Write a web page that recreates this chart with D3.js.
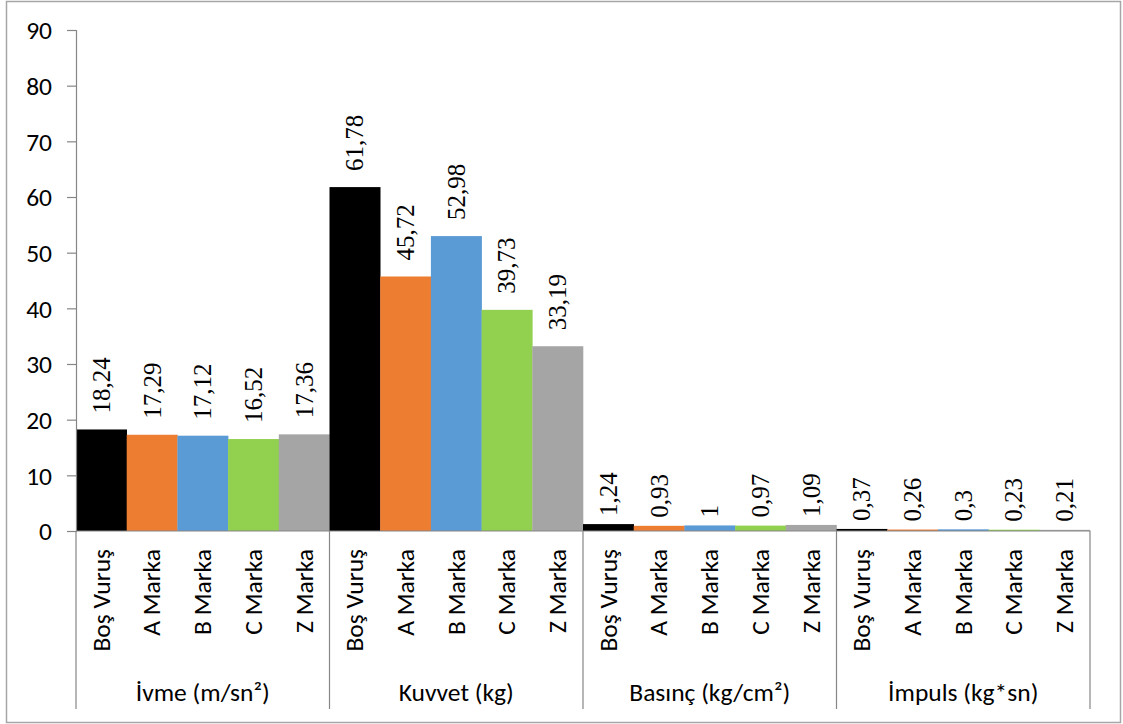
<!DOCTYPE html>
<html>
<head>
<meta charset="utf-8">
<script src="https://cdn.jsdelivr.net/npm/d3@7"></script>
<style>
html,body{margin:0;padding:0;background:#fff;}
svg{display:block;}
</style>
</head>
<body>
<script>
const groups = ["İvme (m/sn²)", "Kuvvet (kg)", "Basınç (kg/cm²)", "İmpuls (kg*sn)"];
const categories = ["Boş Vuruş", "A Marka", "B Marka", "C Marka", "Z Marka"];
const ivme = [18.24, 17.29, 17.12, 16.52, 17.36];
const kuvvet = [61.78, 45.72, 52.98, 39.73, 33.19];
const basinc = [1.24, 0.93, 1, 0.97, 1.09];
const impuls = [0.37, 0.26, 0.3, 0.23, 0.21];
const yTicks = [0, 10, 20, 30, 40, 50, 60, 70, 80, 90];
const colors = ["#000000", "#ED7D31", "#5B9BD5", "#92D050", "#A5A5A5"];

const seriesByGroup = [ivme, kuvvet, basinc, impuls];
const rows = [];
groups.forEach((g, gi) => categories.forEach((c, ci) => rows.push({g, c, ci, v: seriesByGroup[gi][ci]})));

const W = 1123, H = 724;
const svg = d3.select("body").append("svg").attr("width", W).attr("height", H);

// outer border
svg.append("rect").attr("x", 6.5).attr("y", 1.5).attr("width", 1114).attr("height", 721)
  .attr("fill", "#fff").attr("stroke", "#A6A6A6").attr("stroke-width", 1.5);

const x0 = d3.scaleBand().domain(groups).range([76, 1090]).padding(0);
const x1 = d3.scaleBand().domain(categories).range([0, x0.bandwidth()]).padding(0);
const y = d3.scaleLinear().domain([0, 90]).range([531, 30]);

const sans = "Carlito, Calibri, 'Open Sans', sans-serif";
const serif = "'Liberation Serif', 'Times New Roman', serif";
const fs = 25.5;

// bars
svg.append("g").selectAll("rect").data(rows).join("rect")
  .attr("x", d => x0(d.g) + x1(d.c))
  .attr("width", x1.bandwidth() + 0.3)
  .attr("y", d => y(d.v))
  .attr("height", d => y(0) - y(d.v))
  .attr("fill", d => colors[d.ci]);

// y axis
const yAxis = svg.append("g").attr("transform", "translate(76,0)")
  .call(d3.axisLeft(y).tickValues(yTicks).tickSize(9).tickPadding(15).tickFormat(d3.format("d")));
yAxis.select(".domain").attr("stroke", "#868686").attr("stroke-width", 1.2);
yAxis.selectAll(".tick line").attr("stroke", "#868686").attr("stroke-width", 1.2);
yAxis.selectAll(".tick text").attr("font-family", sans).attr("font-size", fs).attr("fill", "#000").attr("dy", "0.34em");

// x axis line
svg.append("line").attr("x1", 76).attr("x2", 1090).attr("y1", y(0)).attr("y2", y(0))
  .attr("stroke", "#868686").attr("stroke-width", 1.2);

// group separators
const bounds = groups.map(g => x0(g)).concat([x0(groups[groups.length - 1]) + x0.bandwidth()]);
svg.append("g").selectAll("line").data(bounds).join("line")
  .attr("x1", d => d).attr("x2", d => d).attr("y1", y(0)).attr("y2", 709)
  .attr("stroke", "#868686").attr("stroke-width", 1.2);

// category labels
svg.append("g").selectAll("text").data(rows).join("text")
  .attr("transform", d => `translate(${x0(d.g) + x1(d.c) + x1.bandwidth() / 2},549) rotate(-90)`)
  .attr("text-anchor", "end").attr("dy", "0.33em")
  .attr("font-family", sans).attr("font-size", fs).attr("fill", "#000")
  .text(d => d.c);

// group labels
svg.append("g").selectAll("text").data(groups).join("text")
  .attr("x", d => x0(d) + x0.bandwidth() / 2).attr("y", 701)
  .attr("text-anchor", "middle")
  .attr("font-family", sans).attr("font-size", fs).attr("fill", "#000")
  .text(d => d);

// value labels
svg.append("g").selectAll("text").data(rows).join("text")
  .attr("transform", d => {
    const h = y(0) - y(d.v);
    const gap = h > 20 ? 16 : 8;
    return `translate(${x0(d.g) + x1(d.c) + x1.bandwidth() / 2},${y(d.v) - gap}) rotate(-90)`;
  })
  .attr("text-anchor", "start").attr("dy", "0.34em")
  .attr("font-family", serif).attr("font-size", 25).attr("fill", "#000")
  .text(d => String(d.v).replace(".", ","));
</script>
</body>
</html>
